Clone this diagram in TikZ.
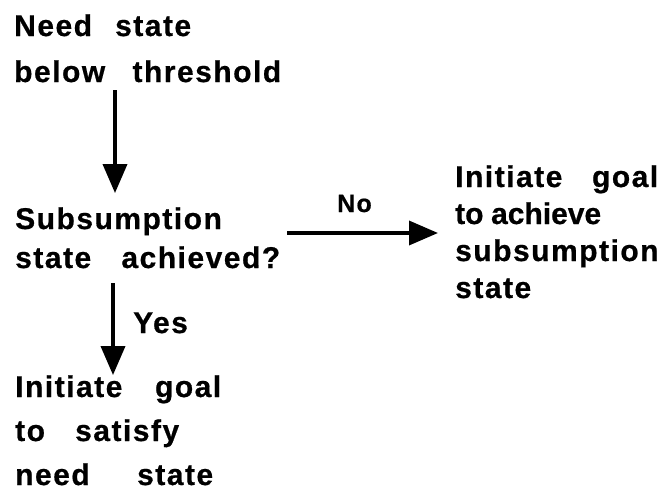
\documentclass[tikz,border=0pt]{standalone}
\usepackage{fontspec}
\usetikzlibrary{arrows.meta}
\newfontfamily\flowfont[LetterSpace=5,FakeBold=0.6]{Liberation Sans}
% a line of words spread to a fixed width
\newcommand\fitline[2]{\hbox to #1pt{#2}}
\begin{document}
\begin{tikzpicture}[x=1pt,y=-1pt,
  txt/.style={inner sep=0pt, anchor=base west, align=left,
    font=\fontsize{30}{#1}\selectfont\flowfont\bfseries},
  lab/.style={inner sep=0pt, anchor=base west,
    font=\fontsize{#1}{#1}\selectfont\flowfont\bfseries},
  arr/.style={line width=3.6pt, -{Triangle[length=29pt,width=24pt]}}]
\fill[white] (0,0) rectangle (662,498);
\useasboundingbox (0,0) rectangle (662,498);

% text blocks (anchored on the baseline of their last line)
\node[txt=46] (need) at (14,82)
  {\fitline{177}{Need\hfill state}\\\fitline{267}{below\hfill threshold}};
\node[txt=39] (sub) at (15,268)
  {Subsumption\\\fitline{265}{state\hfill achieved?}};
\node[txt=37] (goalA) at (455,298)
  {\fitline{203}{Initiate\hfill goal}\\
   \fitline{146}{\addfontfeature{LetterSpace=0}to\hfill achieve}\\
   subsumption\\state};
\node[txt=44] (goalS) at (15,485)
  {\fitline{206}{Initiate\hfill goal}\\\fitline{164}{to\hfill satisfy}\\
   \fitline{198}{need\hfill state}};

% connector guides
\coordinate (c1) at (115,0);
\coordinate (c2) at (0,233);
\coordinate (c3) at (113,0);

% connectors
\draw[arr, shorten <=8pt, shorten >=14pt] (need.south -| c1) -- (sub.north -| c1);
\draw[arr, shorten <=7pt, shorten >=17pt] (sub.east |- c2) -- (goalA.west |- c2);
\draw[arr, shorten <=15pt, shorten >=0pt] (sub.south -| c3) -- (goalS.north -| c3);

% branch labels
\node[lab=25] (no) at (337,212) {No};
\node[lab=30] (yes) at (133,333) {Yes};
\end{tikzpicture}
\end{document}
